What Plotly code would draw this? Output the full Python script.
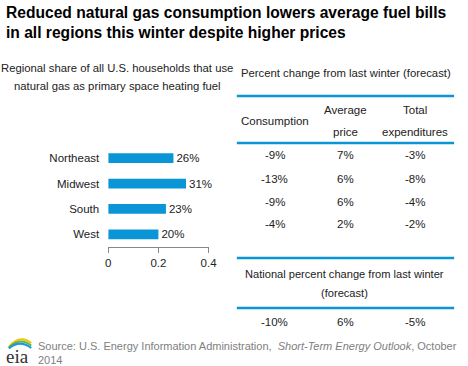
import plotly.graph_objects as go

W, H = 468, 366

regions = ["Northeast", "Midwest", "South", "West"]
share = [0.26, 0.31, 0.23, 0.20]
share_labels = ["26%", "31%", "23%", "20%"]
x_ticks = [0, 0.2, 0.4]
x_tick_labels = ["0", "0.2", "0.4"]

table_headers = [["Consumption"], ["Average", "price"], ["Total", "expenditures"]]
consumption = ["-9%", "-13%", "-9%", "-4%"]
avg_price = ["7%", "6%", "6%", "2%"]
total_exp = ["-3%", "-8%", "-4%", "-2%"]
national = ["-10%", "6%", "-5%"]

BLUE = "#0a96d6"
TXT = "#222222"
FONT = "Liberation Sans, Arial, sans-serif"
FS = 11.5


def px(x):
    return x / W


def py(y):
    return 1 - y / H


def note(x, y, text, size=FS, color=TXT, family=FONT, xanchor="center", align="center"):
    return dict(x=px(x), y=py(y), xref="paper", yref="paper", xanchor=xanchor,
                yanchor="middle", align=align, text=text, showarrow=False,
                font=dict(family=family, size=size, color=color))


fig = go.Figure()
fig.add_trace(go.Bar(
    y=regions, x=share, orientation="h", width=0.38,
    marker=dict(color=BLUE, line=dict(width=0)),
    text=share_labels, textposition="outside", cliponaxis=False,
    constraintext="none",
    textfont=dict(family=FONT, size=FS, color=TXT),
    hoverinfo="skip",
))

ann = []
ann.append(dict(x=px(1), y=py(2), xref="paper", yref="paper", xanchor="left", yanchor="top",
                align="left", showarrow=False,
                text="<b>Reduced natural gas consumption lowers average fuel bills<br>in all regions this winter despite higher prices</b>",
                font=dict(family=FONT, size=15.6, color="#000000")))
ann.append(note(117, 68, "Regional share of all U.S. households that use", size=11.3))
ann.append(note(117, 86, "natural gas as primary space heating fuel", size=11.3))
ann.append(note(352, 73, "Percent change from last winter (forecast)", size=11.3))
col_x = [279, 352, 423]
for cx, h in zip(col_x, table_headers):
    if len(h) == 1:
        ann.append(note(cx, 121, h[0]))
    else:
        ann.append(note(cx, 110, h[0]))
        ann.append(note(cx, 132, h[1]))
row_y = [155, 179, 202, 224]
for col, cx in zip([consumption, avg_price, total_exp], col_x):
    for v, ry in zip(col, row_y):
        ann.append(note(cx, ry, v))
ann.append(note(350, 274, "National percent change from last winter", size=11.1))
ann.append(note(350, 293, "(forecast)", size=11.1))
for v, cx in zip(national, col_x):
    ann.append(note(cx, 322, v))
ann.append(note(34, 353,
                "Source: U.S. Energy Information Administration,  <i>Short-Term Energy Outlook</i>, October<br>2014",
                size=11, color="#808080", xanchor="left", align="left"))
ann.append(note(15, 356, "eia", size=19, color="#333333",
                family="Liberation Serif, DejaVu Serif, serif"))

shapes = []
for ly in [96, 143, 258, 308]:
    shapes.append(dict(type="line", xref="paper", yref="paper",
                       x0=px(240), x1=px(463), y0=py(ly), y1=py(ly),
                       line=dict(color=BLUE, width=2.5)))
for off, col in [(0, "#f2c200"), (2.5, "#5cb848"), (5, "#1a9ad6")]:
    path = f"M {px(6)},{py(347 + off * 0.3)} Q {px(17)},{py(334 + off)} {px(29)},{py(343 + off)}"
    shapes.append(dict(type="path", xref="paper", yref="paper", path=path,
                       line=dict(color=col, width=2)))

fig.update_layout(
    width=W, height=H, margin=dict(l=0, r=0, t=0, b=0),
    paper_bgcolor="white", plot_bgcolor="white",
    showlegend=False, annotations=ann, shapes=shapes,
    xaxis=dict(domain=[px(108), px(211)], range=[0, 0.4], tickvals=x_ticks,
               ticktext=x_tick_labels, showgrid=False, zeroline=False,
               showline=True, linecolor="#888888", linewidth=1,
               ticks="outside", ticklen=5, tickcolor="#888888",
               tickfont=dict(family=FONT, size=FS, color=TXT)),
    yaxis=dict(domain=[py(247), py(145.5)], range=[3.5, -0.5],
               showgrid=False, zeroline=False, showline=False, ticks="",
               ticklabelstandoff=8,
               tickfont=dict(family=FONT, size=FS, color=TXT)),
)

fig.write_html("out.html", config={"displayModeBar": False},
               post_script="document.body.style.margin='0';")
